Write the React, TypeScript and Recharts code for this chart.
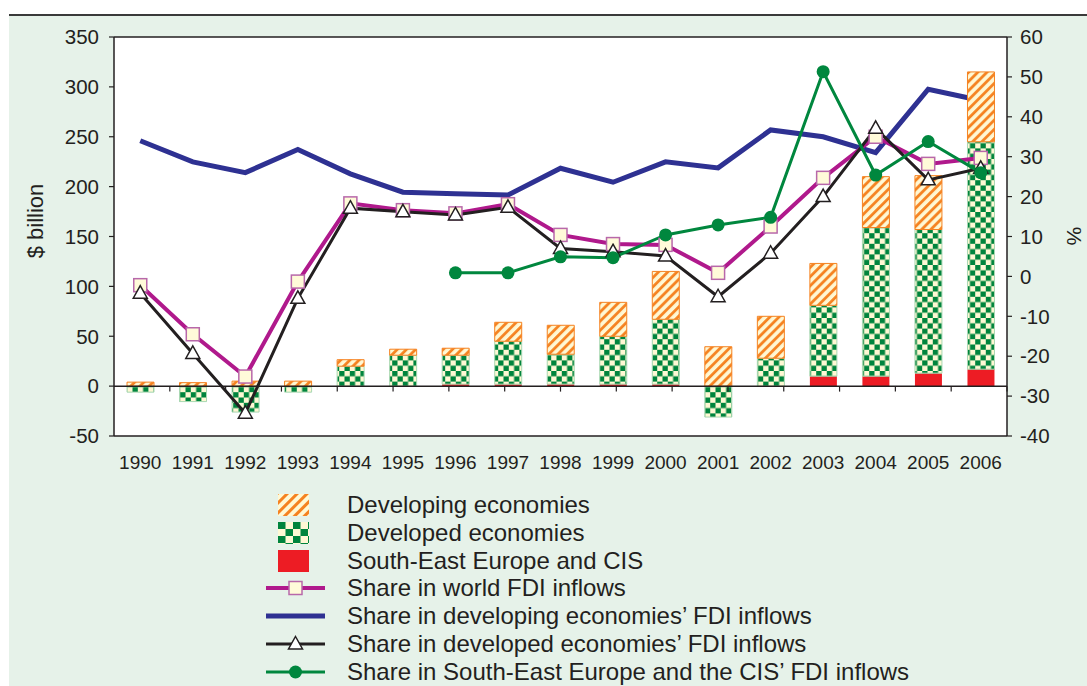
import React from 'react';
import { ComposedChart, Bar, Line, XAxis, YAxis, CartesianGrid, ReferenceLine } from 'recharts';

// ---------- data ----------
const years = ['1990', '1991', '1992', '1993', '1994', '1995', '1996', '1997', '1998', '1999', '2000', '2001', '2002', '2003', '2004', '2005', '2006'];

// $ billion (left axis)
const developingEconomies = [4, 3.5, 5, 5, 6.5, 6, 7, 19, 29, 34, 48, 39.5, 42, 42, 51, 54, 70];
const developedEconomies = [-6, -15.5, -26, -6, 20, 31, 29, 43, 30, 48, 65, -31, 28, 71, 149, 144, 228];
const seeCisEconomies = [0, 0, 0, 0, 0, 0, 2, 2, 2, 2, 2, 0, 0, 10, 10, 13, 17];

// % (right axis)
const shareWorld = [-2.2, -14.5, -25.1, -1.3, 18.3, 16.6, 15.8, 18.1, 10.4, 8.1, 7.9, 0.9, 12.5, 24.7, 35.0, 28.2, 29.7];
const shareDeveloping = [34, 28.7, 26, 31.8, 25.7, 21.1, 20.7, 20.4, 27.1, 23.6, 28.7, 27.2, 36.7, 35.0, 31.0, 46.9, 44.1];
const shareDeveloped = [-4.2, -19.3, -34.3, -5.5, 17.1, 16.2, 15.4, 17.3, 7.0, 6.2, 5.1, -5.1, 5.8, 20.0, 37.1, 24.2, 27.1];
const shareSeeCis: (number | null)[] = [null, null, null, null, null, null, 0.9, 0.9, 4.9, 4.7, 10.4, 12.9, 14.8, 51.3, 25.4, 33.8, 26.0];

const leftTicks = [-50, 0, 50, 100, 150, 200, 250, 300, 350];
const rightTicks = [-40, -30, -20, -10, 0, 10, 20, 30, 40, 50, 60];

const legendLabels = [
  'Developing economies',
  'Developed economies',
  'South-East Europe and CIS',
  'Share in world FDI inflows',
  'Share in developing economies\u2019 FDI inflows',
  'Share in developed economies\u2019 FDI inflows',
  'Share in South-East Europe and the CIS\u2019 FDI inflows',
];

// ---------- styles ----------
const INK = '#231f20';
const BG = '#e6f2e9';
const CREAM = '#fff8d4';
const ORANGE = '#f58220';
const CHECK_GREEN = '#00843d';
const RED = '#ed1c24';
const BLUE = '#2e3192';
const PINK = '#b0198c';
const PINK_MARK = '#b868aa';
const GREEN_LINE = '#00873e';
const FONT = '"Liberation Sans", Arial, Helvetica, sans-serif';

const squareDot = (p: any) => {
  const { cx, cy, index } = p;
  if (cx == null || cy == null) return <g key={`s${index}`} />;
  return <rect key={`s${index}`} x={cx - 6.5} y={cy - 6.5} width={13} height={13} fill="#fffbd9" stroke={PINK_MARK} strokeWidth={1.5} />;
};
const triangleDot = (p: any) => {
  const { cx, cy, index } = p;
  if (cx == null || cy == null) return <g key={`t${index}`} />;
  return (
    <polygon
      key={`t${index}`}
      points={`${cx},${cy - 7.5} ${cx + 7},${cy + 5} ${cx - 7},${cy + 5}`}
      fill="#ffffff"
      stroke={INK}
      strokeWidth={1.5}
    />
  );
};
const circleDot = (p: any) => {
  const { cx, cy, index } = p;
  if (cx == null || cy == null) return <g key={`c${index}`} />;
  return <circle key={`c${index}`} cx={cx} cy={cy} r={6.5} fill={GREEN_LINE} />;
};

function LegendIcon({ i }: { i: number }) {
  if (i === 0)
    return (
      <svg width={60} height={24}>
        <rect x={12} y={1} width={31} height={22} fill="url(#hatchL)" />
      </svg>
    );
  if (i === 1)
    return (
      <svg width={60} height={24}>
        <rect x={12} y={1} width={31} height={22} fill="url(#checkerL)" />
      </svg>
    );
  if (i === 2)
    return (
      <svg width={60} height={24}>
        <rect x={12} y={1} width={31} height={22} fill={RED} />
      </svg>
    );
  if (i === 3)
    return (
      <svg width={60} height={24}>
        <line x1={0} y1={12} x2={59} y2={12} stroke={PINK} strokeWidth={4} />
        <rect x={23} y={5.5} width={13} height={13} fill="#fffbd9" stroke={PINK_MARK} strokeWidth={1.5} />
      </svg>
    );
  if (i === 4)
    return (
      <svg width={60} height={24}>
        <line x1={0} y1={12} x2={59} y2={12} stroke={BLUE} strokeWidth={5} />
      </svg>
    );
  if (i === 5)
    return (
      <svg width={60} height={24}>
        <line x1={0} y1={12} x2={59} y2={12} stroke={INK} strokeWidth={3} />
        <polygon points="29.5,4.5 36.5,17 22.5,17" fill="#fff" stroke={INK} strokeWidth={1.5} />
      </svg>
    );
  return (
    <svg width={60} height={24}>
      <line x1={0} y1={12} x2={59} y2={12} stroke={GREEN_LINE} strokeWidth={3} />
      <circle cx={29.5} cy={12} r={6.5} fill={GREEN_LINE} />
    </svg>
  );
}

export default function App() {
  const data = years.map((y, i) => ({
    year: y,
    developing: developingEconomies[i],
    developed: developedEconomies[i],
    see: seeCisEconomies[i],
    world: shareWorld[i],
    devgShare: shareDeveloping[i],
    devdShare: shareDeveloped[i],
    seeShare: shareSeeCis[i],
  }));
  const boundaries = years.slice(1).map((_, i) => i + 1);

  return (
    <div style={{ position: 'absolute', left: 0, top: 0, width: 1087, height: 686, background: '#fff', overflow: 'hidden', fontFamily: FONT }}>
      <div style={{ position: 'absolute', left: 9, top: 14, width: 1078, height: 672, background: BG, borderTop: '2px solid #3a3a3a', boxSizing: 'border-box' }} />
      <svg width={0} height={0} style={{ position: 'absolute' }}>
        <defs>
          <pattern id="hatch" patternUnits="userSpaceOnUse" width={6.5} height={6.5} patternTransform="rotate(45)">
            <rect width={6.5} height={6.5} fill={CREAM} />
            <line x1={1.5} y1={0} x2={1.5} y2={6.5} stroke={ORANGE} strokeWidth={2.8} />
          </pattern>
          <pattern id="hatchL" patternUnits="userSpaceOnUse" width={7} height={7} patternTransform="rotate(45)">
            <rect width={7} height={7} fill={CREAM} />
            <line x1={1.5} y1={0} x2={1.5} y2={7} stroke={ORANGE} strokeWidth={3} />
          </pattern>
          <pattern id="checker" patternUnits="userSpaceOnUse" width={10.6} height={10.6}>
            <rect width={10.6} height={10.6} fill={CREAM} />
            <rect x={0} y={0} width={5.3} height={5.3} fill={CHECK_GREEN} />
            <rect x={5.3} y={5.3} width={5.3} height={5.3} fill={CHECK_GREEN} />
          </pattern>
          <pattern id="checkerL" patternUnits="userSpaceOnUse" width={15} height={14} x={12} y={1}>
            <rect width={15} height={14} fill={CREAM} />
            <rect x={0} y={0} width={7.5} height={7} fill={CHECK_GREEN} />
            <rect x={7.5} y={7} width={7.5} height={7} fill={CHECK_GREEN} />
          </pattern>
        </defs>
      </svg>

      <div style={{ position: 'absolute', left: 0, top: 0 }}>
        <ComposedChart
          width={1087}
          height={686}
          data={data}
          margin={{ top: 37, right: 20, bottom: 220, left: 54 }}
          stackOffset="sign"
          barSize={27}
        >
          <CartesianGrid fill="#ffffff" horizontal={false} vertical={false} yAxisId="left" />
          <XAxis
            dataKey="year"
            axisLine={false}
            tickLine={false}
            tickSize={0}
            tickMargin={20}
            interval={0}
            height={30}
            tick={{ fill: INK, fontSize: 19, fontFamily: FONT }}
          />
          <XAxis xAxisId="b" type="number" domain={[0, years.length]} hide allowDataOverflow />
          <YAxis
            yAxisId="left"
            orientation="left"
            domain={[-50, 350]}
            ticks={leftTicks}
            interval={0}
            width={60}
            tickSize={5}
            tickMargin={10}
            allowDataOverflow
            axisLine={{ stroke: INK, strokeWidth: 1.5 }}
            tickLine={{ stroke: INK, strokeWidth: 1.2 }}
            tick={{ fill: INK, fontSize: 20.5, fontFamily: FONT }}
          />
          <YAxis
            yAxisId="right"
            orientation="right"
            domain={[-40, 60]}
            ticks={rightTicks}
            interval={0}
            width={60}
            tickSize={5}
            tickMargin={8}
            allowDataOverflow
            axisLine={{ stroke: INK, strokeWidth: 1.5 }}
            tickLine={{ stroke: INK, strokeWidth: 1.2 }}
            tick={{ fill: INK, fontSize: 20.5, fontFamily: FONT, textAnchor: 'start' }}
          />

          <Line
            yAxisId="right"
            dataKey="devgShare"
            type="linear"
            stroke={BLUE}
            strokeWidth={5}
            dot={false}
            activeDot={false}
            isAnimationActive={false}
            {...({ zIndex: 250 } as any)}
          />

          <Bar yAxisId="left" dataKey="see" stackId="a" fill={RED} isAnimationActive={false} />
          <Bar yAxisId="left" dataKey="developed" stackId="a" fill="url(#checker)" stroke="#a9d8b2" strokeWidth={1} isAnimationActive={false} />
          <Bar yAxisId="left" dataKey="developing" stackId="a" fill="url(#hatch)" stroke={ORANGE} strokeWidth={1} isAnimationActive={false} />

          <ReferenceLine yAxisId="left" y={0} stroke={INK} strokeWidth={1.5} />
          <ReferenceLine yAxisId="left" y={350} stroke={INK} strokeWidth={1.5} />
          <ReferenceLine yAxisId="left" y={-50} stroke={INK} strokeWidth={1.5} />
          {boundaries.map((b) => (
            <ReferenceLine
              key={`b${b}`}
              xAxisId="b"
              yAxisId="left"
              segment={[{ x: b, y: 0 }, { x: b, y: -5.5 }]}
              stroke={INK}
              strokeWidth={1.2}
            />
          ))}

          <Line yAxisId="right" dataKey="world" type="linear" stroke={PINK} strokeWidth={4} dot={squareDot} activeDot={false} isAnimationActive={false} />
          <Line yAxisId="right" dataKey="devdShare" type="linear" stroke={INK} strokeWidth={3} dot={triangleDot} activeDot={false} isAnimationActive={false} />
          <Line yAxisId="right" dataKey="seeShare" type="linear" stroke={GREEN_LINE} strokeWidth={3} dot={circleDot} activeDot={false} isAnimationActive={false} />
        </ComposedChart>
      </div>

      <div style={{ position: 'absolute', left: 36, top: 221, transform: 'translate(-50%, -50%) rotate(-90deg)', fontSize: 22, color: INK, whiteSpace: 'nowrap', lineHeight: 1 }}>
        $ billion
      </div>
      <div style={{ position: 'absolute', left: 1074, top: 236, transform: 'translate(-50%, -50%) rotate(90deg)', fontSize: 21, color: INK, whiteSpace: 'nowrap', lineHeight: 1 }}>
        %
      </div>

      {legendLabels.map((label, i) => (
        <div key={label} style={{ position: 'absolute', left: 266, top: 505 + i * 27.8 - 14, height: 28, display: 'flex', alignItems: 'center' }}>
          <LegendIcon i={i} />
          <span style={{ marginLeft: 21, fontSize: 24, color: INK, whiteSpace: 'nowrap', lineHeight: 1 }}>{label}</span>
        </div>
      ))}
    </div>
  );
}
